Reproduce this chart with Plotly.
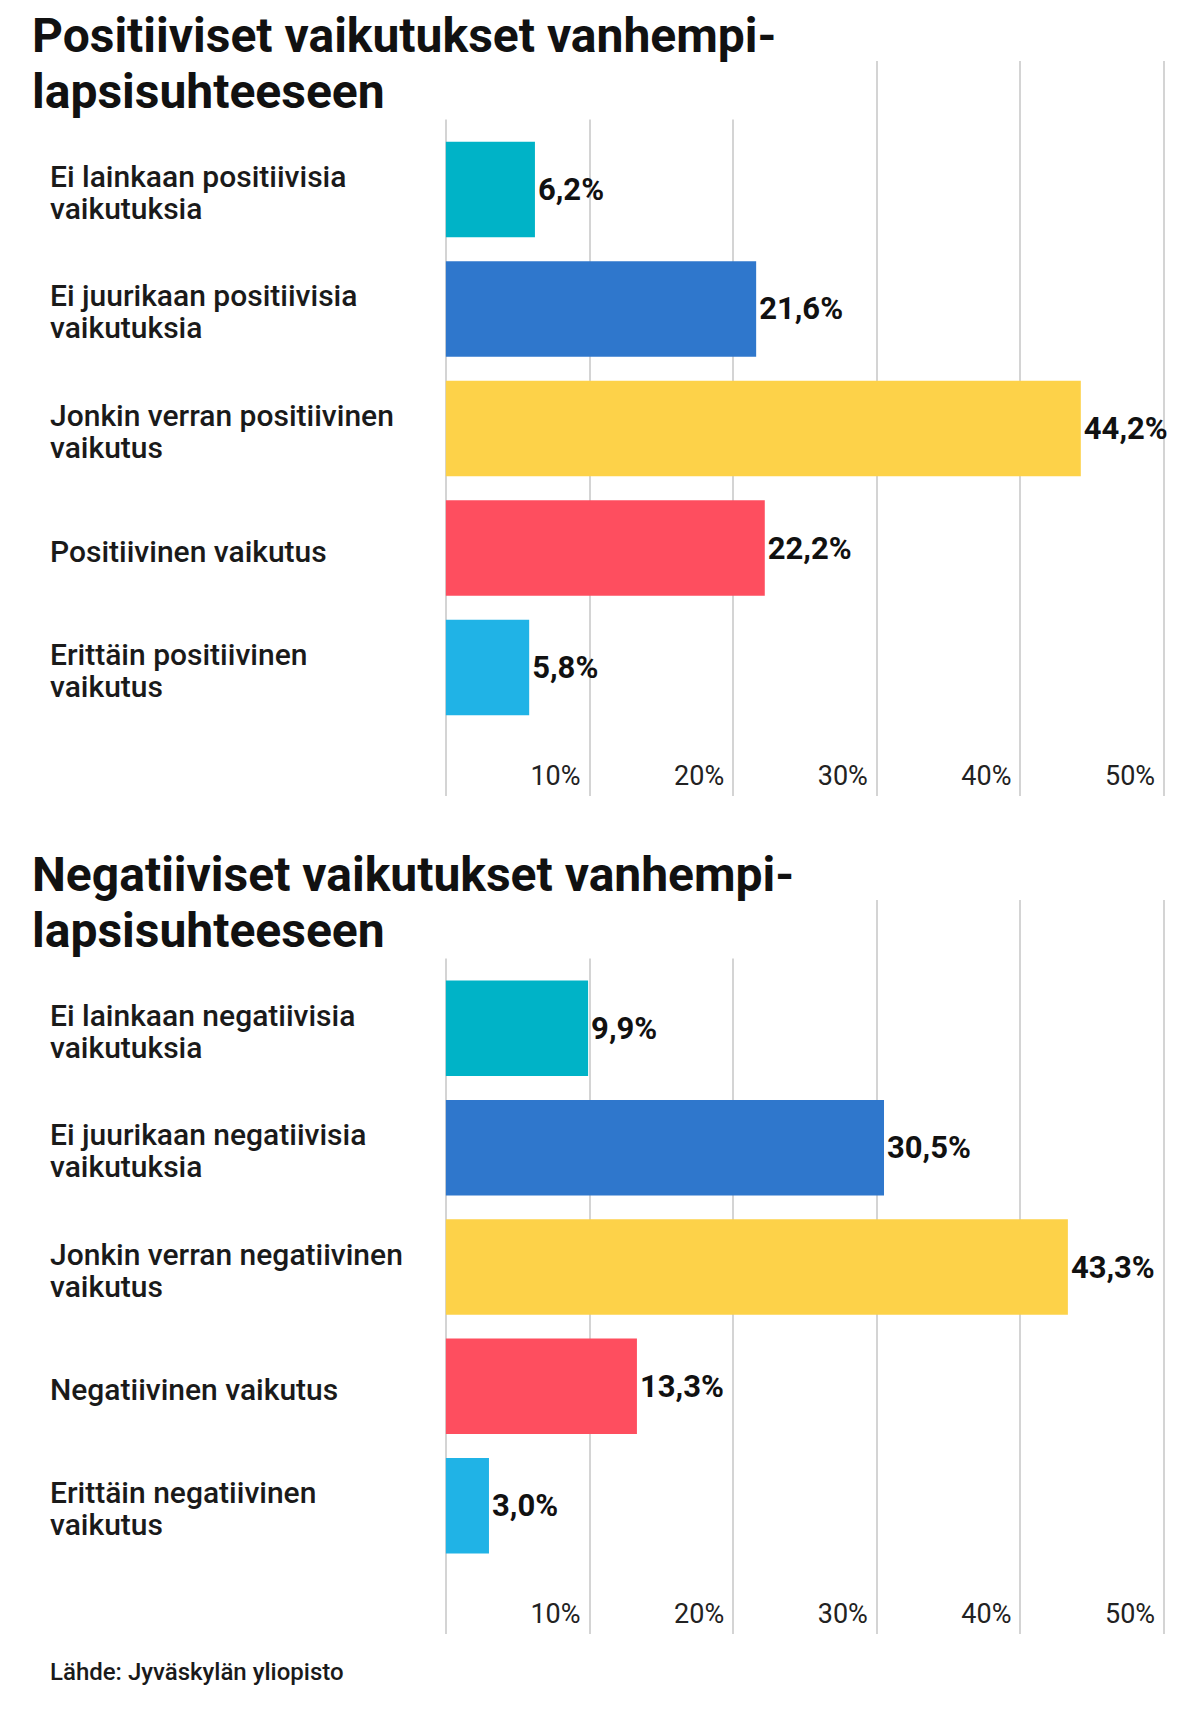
import plotly.graph_objects as go

W, H = 1199, 1728

pos_labels = [
    "Ei lainkaan positiivisia<br>vaikutuksia",
    "Ei juurikaan positiivisia<br>vaikutuksia",
    "Jonkin verran positiivinen<br>vaikutus",
    "Positiivinen vaikutus",
    "Erittäin positiivinen<br>vaikutus",
]
pos_values = [6.2, 21.6, 44.2, 22.2, 5.8]

neg_labels = [
    "Ei lainkaan negatiivisia<br>vaikutuksia",
    "Ei juurikaan negatiivisia<br>vaikutuksia",
    "Jonkin verran negatiivinen<br>vaikutus",
    "Negatiivinen vaikutus",
    "Erittäin negatiivinen<br>vaikutus",
]
neg_values = [9.9, 30.5, 43.3, 13.3, 3.0]

bar_colors = ["#00b3c7", "#2f77cc", "#fdd249", "#fe4e5f", "#20b3e6"]
tick_vals = [0, 10, 20, 30, 40, 50]
tick_text = ["", "10%", "20%", "30%", "40%", "50%"]

pos_title = ["Positiiviset vaikutukset vanhempi-", "lapsisuhteeseen"]
neg_title = ["Negatiiviset vaikutukset vanhempi-", "lapsisuhteeseen"]
source = "Lähde: Jyväskylän yliopisto"

FONT = "Roboto"


def fmt(v):
    return f"{v:.1f}".replace(".", ",") + "%"


# pixel rows of each panel's plot area (top, bottom)
panels = [
    (pos_labels, pos_values, pos_title, 53, 788),
    (neg_labels, neg_values, neg_title, 892, 1626),
]

fig = go.Figure()
annotations = []

for k, (labels, values, title, top, bottom) in enumerate(panels):
    sfx = "" if k == 0 else str(k + 1)
    xa, ya = "x" + sfx, "y" + sfx

    fig.add_trace(
        go.Bar(
            x=values,
            y=labels,
            orientation="h",
            width=0.8,
            marker=dict(color=bar_colors, line=dict(width=0)),
            text=[fmt(v) for v in values],
            textposition="outside",
            textfont=dict(family=FONT, size=31, color="#111111", weight="bold"),
            cliponaxis=False,
            hoverinfo="skip",
            showlegend=False,
            xaxis=xa,
            yaxis=ya,
        )
    )

    fig.layout["xaxis" + sfx] = dict(
        domain=[435 / W, 1159 / W],
        range=[-0.2, 50.2],
        tickvals=tick_vals,
        ticktext=tick_text,
        ticks="",
        ticklabelposition="inside left",
        ticklabelshift=-9,
        tickfont=dict(family=FONT, size=27, color="#222222"),
        showgrid=True,
        gridcolor="#d4d4d4",
        gridwidth=1.5,
        zeroline=False,
        showline=False,
        anchor=ya,
        fixedrange=True,
    )
    fig.layout["yaxis" + sfx] = dict(
        domain=[1 - bottom / H, 1 - top / H],
        type="category",
        range=[len(labels) - 1 + 1.075, -1.075],
        showticklabels=False,
        showgrid=False,
        zeroline=False,
        anchor=xa,
        fixedrange=True,
    )

    # category labels, one annotation per line for tighter leading
    for i, lab in enumerate(labels):
        lines = lab.split("<br>")
        n = len(lines)
        for j, line in enumerate(lines):
            annotations.append(
                dict(
                    text=line,
                    xref="paper",
                    x=40 / W,
                    xanchor="left",
                    yref=ya,
                    y=i,
                    yanchor="middle",
                    yshift=16 * (n - 1) - 32 * j - 3,
                    showarrow=False,
                    font=dict(family=FONT, size=30, color="#1a1a1a", weight=500),
                )
            )

    # title lines, white boxes hide the grid behind them
    for j in (1, 0):
        annotations.append(
            dict(
                text=title[j],
                xref="paper",
                x=23 / W,
                xanchor="left",
                yref="paper",
                y=1 - (top - 26 + 56 * j) / H,
                yanchor="middle",
                width=790,
                height=56,
                align="left",
                valign="middle",
                bgcolor="white",
                borderpad=0,
                showarrow=False,
                font=dict(family=FONT, size=48, color="#111111", weight="bold"),
            )
        )

annotations.append(
    dict(
        text=source,
        xref="paper",
        x=40 / W,
        xanchor="left",
        yref="paper",
        y=1 - 1664 / H,
        yanchor="middle",
        showarrow=False,
        font=dict(family=FONT, size=24, color="#1a1a1a", weight=500),
    )
)

fig.update_layout(
    width=W,
    height=H,
    autosize=False,
    margin=dict(l=0, r=0, t=0, b=0),
    paper_bgcolor="white",
    plot_bgcolor="white",
    annotations=annotations,
    font=dict(family=FONT),
)

fig.write_html("out.html")
